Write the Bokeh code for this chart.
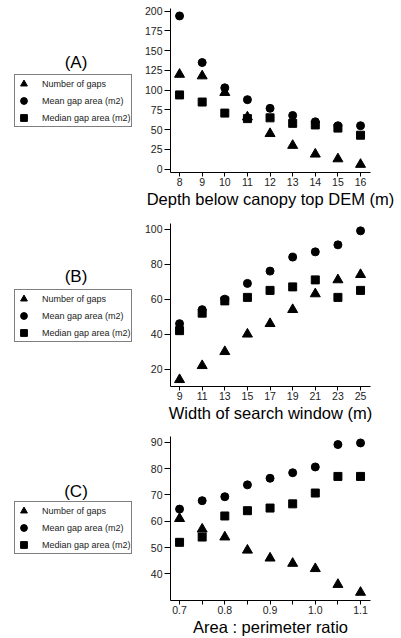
from bokeh.plotting import figure
from bokeh.models import (Legend, LegendItem, Label, FixedTicker, Range1d,
                          PrintfTickFormatter)
from bokeh.layouts import column, row
from bokeh.embed import file_html
from bokeh.resources import INLINE

FONT = "Liberation Sans"

# Panel A: depth below canopy top DEM
depth = [8, 9, 10, 11, 12, 13, 14, 15, 16]
depth_count = [120, 118, 97, 66, 45, 30, 19, 13, 6]
depth_mean = [194, 135, 103, 88, 77, 68, 60, 55, 55]
depth_median = [94, 85, 71, 64, 65, 58, 56, 52, 43]

# Panel B: width of search window
window = [9, 11, 13, 15, 17, 19, 21, 23, 25]
window_count = [14, 22, 30, 40, 46, 54, 63, 71, 74]
window_mean = [46, 54, 60, 69, 76, 84, 87, 91, 99]
window_median = [42, 52, 59, 61, 65, 67, 71, 61, 65]

# Panel C: area : perimeter ratio
ratio = [0.7, 0.75, 0.8, 0.85, 0.9, 0.95, 1.0, 1.05, 1.1]
ratio_count = [61, 57, 54, 49, 46, 44, 42, 36, 33]
ratio_mean = [64.6, 67.8, 69.3, 73.8, 76.3, 78.4, 80.6, 89.1, 89.7]
ratio_median = [52, 54, 62, 64, 65, 66.6, 70.7, 77, 77]

series_names = ["Number of gaps", "Mean gap area (m2)", "Median gap area (m2)"]
markers = ["triangle", "circle", "square"]

LEFT_W = 140
RIGHT_W = 255


def side(tag, height, btop, bbottom, legend_y, tag_y):
    fh = height - btop - bbottom
    s = figure(width=LEFT_W, height=height, output_backend="svg",
               toolbar_location=None, x_range=Range1d(0, LEFT_W),
               y_range=Range1d(0, fh),
               min_border_left=0, min_border_right=0,
               min_border_top=btop, min_border_bottom=bbottom)
    s.axis.visible = False
    s.xgrid.visible = False
    s.ygrid.visible = False
    s.outline_line_color = None
    # legend keys only: placed outside the visible range
    rs = [s.scatter([-1000], [-1000], marker=m, size=8, color="black")
          for m in markers]
    legend = Legend(items=[LegendItem(label=n, renderers=[r])
                           for n, r in zip(series_names, rs)],
                    location=(14, legend_y))
    legend.label_text_font = FONT
    legend.label_text_font_size = "9px"
    legend.label_text_color = "#222222"
    legend.padding = 0
    legend.spacing = 0
    legend.margin = 0
    legend.glyph_width = 17
    legend.glyph_height = 17
    legend.label_height = 17
    legend.label_standoff = 10
    legend.border_line_color = "black"
    legend.border_line_width = 1
    legend.background_fill_color = "white"
    legend.background_fill_alpha = 1
    s.add_layout(legend, "center")
    s.add_layout(Label(x=75.5, y=tag_y, x_units="screen", y_units="screen",
                       text=tag, text_font=FONT,
                       text_font_size="17px", text_align="center",
                       text_baseline="middle", text_color="black"))
    return s


def panel(x, cnt, mean, med, xr, yr, xticks, xminor, yticks, xlabel,
          height, btop, bbottom, xfmt=None):
    p = figure(width=RIGHT_W, height=height, output_backend="svg",
               toolbar_location=None, x_range=Range1d(*xr), y_range=Range1d(*yr),
               min_border_left=30, min_border_right=25,
               min_border_top=btop, min_border_bottom=bbottom)
    p.outline_line_color = None
    p.xgrid.visible = False
    p.ygrid.visible = False

    p.scatter(x, cnt, marker="triangle", size=10, color="black")
    p.scatter(x, mean, marker="circle", size=8, color="black")
    p.scatter(x, med, marker="square", size=8, color="black")

    xa = p.xaxis[0]
    xa.ticker = FixedTicker(ticks=xticks, minor_ticks=xminor)
    if xfmt:
        xa.formatter = PrintfTickFormatter(format=xfmt)
    xa.axis_label = xlabel
    xa.axis_label_text_font = FONT
    xa.axis_label_text_font_size = "16.5px"
    xa.axis_label_text_font_style = "normal"
    xa.axis_label_text_color = "black"
    xa.axis_label_standoff = 1
    xa.major_label_text_font = FONT
    xa.major_label_text_font_size = "10.5px"
    xa.major_label_text_color = "#222222"
    xa.major_label_standoff = 1
    xa.major_tick_in = 0
    xa.major_tick_out = 4
    xa.minor_tick_in = 0
    xa.minor_tick_out = 4
    xa.axis_line_color = "black"
    xa.major_tick_line_color = "black"
    xa.minor_tick_line_color = "black"

    ya = p.yaxis[0]
    ya.ticker = FixedTicker(ticks=yticks)
    ya.major_label_text_font = FONT
    ya.major_label_text_font_size = "10.5px"
    ya.major_label_text_color = "#222222"
    ya.major_label_standoff = 2
    ya.major_tick_in = 0
    ya.major_tick_out = 6
    ya.minor_tick_line_color = None
    ya.axis_line_color = "black"
    ya.major_tick_line_color = "black"
    return p


pa = panel(depth, depth_count, depth_mean, depth_median,
           (7.60, 16.44), (-4.2, 203.4),
           [8, 9, 10, 11, 12, 13, 14, 15, 16], [],
           [0, 25, 50, 75, 100, 125, 150, 175, 200],
           "Depth below canopy top DEM (m)", 215, 8, 43)
sa = side("(A)", 215, 8, 43, 45, 110)

pb = panel(window, window_count, window_mean, window_median,
           (8.2, 25.88), (10.1, 103.2),
           [9, 11, 13, 15, 17, 19, 21, 23, 25], [],
           [20, 40, 60, 80, 100],
           "Width of search window (m)", 215, 8, 44)
sb = side("(B)", 215, 8, 44, 44, 110)

pc = panel(ratio, ratio_count, ratio_mean, ratio_median,
           (0.680, 1.122), (29.93, 92.15),
           [0.7, 0.8, 0.9, 1.0, 1.1], [0.75, 0.85, 0.95, 1.05],
           [40, 50, 60, 70, 80, 90],
           "Area : perimeter ratio", 208, 6, 37, xfmt="%.1f")
sc = side("(C)", 208, 6, 37, 46, 109)

layout = column(row(sa, pa, spacing=0), row(sb, pb, spacing=0),
                row(sc, pc, spacing=0), spacing=0)

with open("out.html", "w") as f:
    f.write(file_html(layout, INLINE))
